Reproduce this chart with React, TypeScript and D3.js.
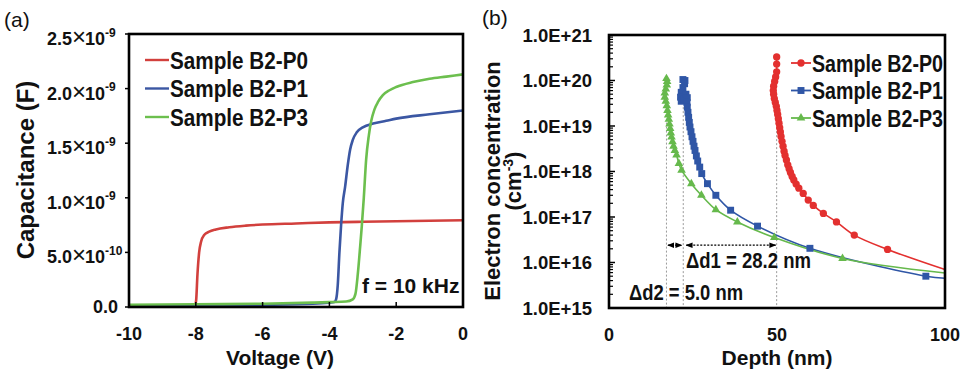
import React from 'react';
import * as d3 from 'd3';

// ---------- Panel (a): C-V data (capacitance in units of 1e-9 F) ----------
const voltageP0 = [-10, -9, -8.5, -8.15, -8.02, -7.99, -7.95, -7.9, -7.84, -7.75, -7.6, -7.4, -7.0, -6.5, -6, -5, -4, -3, -2, -1, 0];
const capP0 = [0.01, 0.012, 0.013, 0.015, 0.02, 0.06, 0.3, 0.5, 0.6, 0.66, 0.69, 0.71, 0.73, 0.745, 0.755, 0.765, 0.775, 0.78, 0.785, 0.79, 0.795];

const voltageP1 = [-10, -8, -6, -4.5, -4, -3.85, -3.8, -3.75, -3.7, -3.65, -3.6, -3.53, -3.45, -3.38, -3.3, -3.18, -3.0, -2.69, -2.3, -2, -1, 0];
const capP1 = [0.01, 0.015, 0.02, 0.03, 0.04, 0.045, 0.07, 0.2, 0.5, 0.75, 0.95, 1.1, 1.3, 1.44, 1.53, 1.6, 1.645, 1.68, 1.705, 1.725, 1.765, 1.8];

const voltageP3 = [-10, -8, -6, -4.5, -4, -3.5, -3.3, -3.22, -3.15, -3.08, -3.03, -2.97, -2.9, -2.82, -2.75, -2.65, -2.54, -2.4, -2.2, -2.0, -1.5, -1, -0.5, 0];
const capP3 = [0.02, 0.025, 0.03, 0.04, 0.045, 0.05, 0.07, 0.12, 0.3, 0.55, 0.74, 1.0, 1.35, 1.57, 1.7, 1.81, 1.88, 1.94, 1.985, 2.015, 2.06, 2.09, 2.11, 2.13];

const voltageTicks = [-10, -8, -6, -4, -2, 0];
const capTicks = [0, 0.5, 1.0, 1.5, 2.0, 2.5];
const capTickMantissa = ['0.0', '5.0', '1.0', '1.5', '2.0', '2.5'];
const capTickExponent = ['', '-10', '-9', '-9', '-9', '-9'];

const seriesNames = ['Sample B2-P0', 'Sample B2-P1', 'Sample B2-P3'];

// ---------- Panel (b): depth profiles ----------
const depthP0 = [49.9, 49.9, 49.9, 49.6, 49.3, 49.0, 48.9, 49.0, 49.2, 49.5, 49.8, 50.0, 50.2, 50.4, 50.6, 50.8, 51.0, 51.2, 51.5, 51.8, 52.1, 52.4, 52.8, 53.2, 53.6, 54.0, 54.5, 55.0, 55.7, 56.5, 57.8, 59.3, 60.8, 63.8, 67.7, 73.0, 82.9, 100];
const concP0 = [3.3e20, 2.3e20, 1.55e20, 1.2e20, 9.5e19, 7.5e19, 6e19, 5e19, 4e19, 3.3e19, 2.7e19, 2.2e19, 1.8e19, 1.45e19, 1.15e19, 9.2e18, 7.4e18, 5.9e18, 4.6e18, 3.6e18, 2.8e18, 2.25e18, 1.8e18, 1.4e18, 1.15e18, 9.5e17, 7.8e17, 6.5e17, 5.3e17, 4.3e17, 3.3e17, 2.35e17, 1.8e17, 1.2e17, 7.8e16, 4e16, 1.94e16, 7e15];

const depthP1 = [22.0, 22.6, 22.5, 22.0, 21.5, 21.3, 21.5, 22.2, 22.9, 23.3, 23.2, 23.3, 23.5, 23.7, 23.9, 24.1, 24.4, 24.7, 25.0, 25.3, 25.6, 26.0, 26.4, 27.0, 27.6, 29.3, 31.8, 36.2, 44.2, 59.8, 94.3, 100];
const concP1 = [1.05e20, 1.0e20, 8.5e19, 7e19, 5.5e19, 4.3e19, 3.5e19, 4e19, 5e19, 4.2e19, 3.3e19, 2.6e19, 2e19, 1.55e19, 1.2e19, 9.5e18, 7.5e18, 5.8e18, 4.6e18, 3.6e18, 2.9e18, 2.2e18, 1.7e18, 1.25e18, 9e17, 5.4e17, 3e17, 1.41e17, 6.3e16, 2.05e16, 5e15, 4.5e15];

const depthP3 = [17.1, 17.3, 17.2, 16.9, 16.6, 16.6, 16.9, 17.2, 17.4, 17.6, 17.8, 18.0, 18.2, 18.4, 18.6, 18.9, 19.2, 19.6, 20.1, 20.8, 21.6, 24.5, 27.5, 31.8, 38.2, 49.2, 69.5, 100];
const concP3 = [1.1e20, 9.5e19, 8e19, 6.5e19, 5.3e19, 4.3e19, 3.5e19, 2.8e19, 2.2e19, 1.75e19, 1.4e19, 1.1e19, 8.8e18, 7e18, 5.7e18, 4.5e18, 3.6e18, 2.9e18, 2.3e18, 1.5e18, 1.07e18, 5.4e17, 3e17, 1.45e17, 7.8e16, 3.55e16, 1.23e16, 5.9e15];

const depthTicks = [0, 50, 100];
const concTicks = [1e15, 1e16, 1e17, 1e18, 1e19, 1e20, 1e21];
const concTickLabels = ['1.0E+15', '1.0E+16', '1.0E+17', '1.0E+18', '1.0E+19', '1.0E+20', '1.0E+21'];

// guide lines (surface edge depth for P3, P1, P0) and their top concentration
const guideDepths = [17.1, 22.1, 49.9];
const guideTopConc = [6e19, 2.6e19, 2.6e19];
const arrowConc = 2.4e16;
const deltaLabels = ['\u0394d1 = 28.2 nm', '\u0394d2 = 5.0 nm'];

const FONT = "'Liberation Sans', Arial, Helvetica, sans-serif";
const colorsA = ['#d2403d', '#3b57a3', '#6cbf4e'];
const colorsB = ['#e3302f', '#2f56a6', '#66b94c'];

function zip(xs: number[], ys: number[]): [number, number][] {
  return xs.map((x, i) => [x, ys[i]]);
}

export default function App() {
  const xA = d3.scaleLinear().domain([-10, 0]).range([129, 463]);
  const yA = d3.scaleLinear().domain([0, 2.5]).range([307, 34]);
  const lineA = d3
    .line<[number, number]>()
    .x((d) => xA(d[0]))
    .y((d) => yA(d[1]))
    .curve(d3.curveMonotoneX);
  const dataA = [zip(voltageP0, capP0), zip(voltageP1, capP1), zip(voltageP3, capP3)];

  const xB = d3.scaleLinear().domain([0, 100]).range([609, 945]);
  const yB = d3.scaleLog().domain([1e15, 1e21]).range([308, 35]);
  const lineB = d3
    .line<[number, number]>()
    .x((d) => xB(d[0]))
    .y((d) => yB(d[1]))
    .curve(d3.curveCatmullRom.alpha(0.5));
  const dataB = [zip(depthP0, concP0), zip(depthP1, concP1), zip(depthP3, concP3)];
  const symbols = [
    d3.symbol().type(d3.symbolCircle).size(42)(),
    d3.symbol().type(d3.symbolSquare).size(48)(),
    d3.symbol().type(d3.symbolTriangle).size(32)(),
  ];

  const minorTicks: number[] = [];
  for (let e = 15; e < 21; e++) {
    for (let m = 2; m <= 9; m++) minorTicks.push(m * Math.pow(10, e));
  }

  const ay = yB(arrowConc);
  const gx = guideDepths.map((d) => xB(d));

  return (
    <svg
      width={964}
      height={382}
      viewBox="0 0 964 382"
      style={{ position: 'absolute', left: 0, top: 0, background: '#fff' }}
      fontFamily={FONT}
    >
      <defs>
        <marker
          id="ah"
          viewBox="0 0 10 10"
          refX={9}
          refY={5}
          markerUnits="userSpaceOnUse"
          markerWidth={7}
          markerHeight={7}
          orient="auto-start-reverse"
        >
          <path d="M0,1 L10,5 L0,9 z" fill="#000" />
        </marker>
      </defs>
      <rect x={0} y={0} width={964} height={382} fill="#fff" />

      {/* ================= Panel (a) ================= */}
      <text x={4} y={27} fontSize={21} fill="#111">(a)</text>

      <g fill="none" strokeWidth={2.6} strokeLinejoin="round">
        {dataA.map((d, i) => (
          <path key={i} d={lineA(d) || ''} stroke={colorsA[i]} />
        ))}
      </g>

      <rect x={129} y={34} width={334} height={273} fill="none" stroke="#000" strokeWidth={2.6} />

      {voltageTicks.map((v) => (
        <g key={v}>
          <line x1={xA(v)} x2={xA(v)} y1={307} y2={302} stroke="#000" strokeWidth={1.5} />
          <text x={xA(v)} y={340} textAnchor="middle" fontSize={18} fontWeight="bold" fill="#111">
            {String(v)}
          </text>
        </g>
      ))}
      {capTicks.map((c, i) => {
        const ty = yA(c);
        return (
          <g key={c} fill="#111">
            <line x1={125} x2={129} y1={ty} y2={ty} stroke="#000" strokeWidth={1.5} />
            {capTickExponent[i] ? (
              <text x={47} y={ty + 11} fontSize={18} fontWeight="bold">
                <tspan>{capTickMantissa[i]}</tspan>
                <tspan fontSize={24} fontWeight="normal">{'\u00d7'}</tspan>
                <tspan dx={-1}>10</tspan>
                <tspan fontSize={12} dy={-8.5}>{capTickExponent[i]}</tspan>
              </text>
            ) : (
              <text x={118} y={ty + 6} textAnchor="end" fontSize={18} fontWeight="bold">
                {capTickMantissa[i]}
              </text>
            )}
          </g>
        );
      })}

      <text x={280} y={365} textAnchor="middle" fontSize={21} fontWeight="bold" fill="#111">
        Voltage (V)
      </text>
      <text
        transform="translate(34,170) rotate(-90)"
        textAnchor="middle"
        fontSize={24}
        fontWeight="bold"
        fill="#111"
      >
        Capacitance (F)
      </text>

      {seriesNames.map((n, i) => {
        const cy = 60 + i * 28.5;
        return (
          <g key={n}>
            <line x1={145} x2={169} y1={cy} y2={cy} stroke={colorsA[i]} strokeWidth={2.4} />
            <text
              x={170}
              y={cy + 8.5}
              fontSize={23}
              fontWeight="bold"
              fill="#111"
              textLength={138}
              lengthAdjust="spacingAndGlyphs"
            >
              {n}
            </text>
          </g>
        );
      })}
      <text x={362} y={293} fontSize={21} fontWeight="bold" fill="#111">
        f = 10 kHz
      </text>

      {/* ================= Panel (b) ================= */}
      <text x={482} y={25} fontSize={21} fill="#111">(b)</text>

      {guideDepths.map((d, i) => (
        <line
          key={i}
          x1={xB(d)}
          x2={xB(d)}
          y1={yB(guideTopConc[i])}
          y2={308}
          stroke="#9a9a9a"
          strokeWidth={1}
          strokeDasharray="2,2"
        />
      ))}

      <g fill="none" strokeWidth={1.6} strokeLinejoin="round">
        {dataB.map((d, i) => (
          <path key={i} d={lineB(d) || ''} stroke={colorsB[i]} />
        ))}
      </g>
      {dataB.map((d, i) => (
        <g key={i} fill={colorsB[i]}>
          {d
            .filter((p) => p[0] < 99)
            .map((p, j) => (
              <path key={j} d={symbols[i] || ''} transform={`translate(${xB(p[0])},${yB(p[1])})`} />
            ))}
        </g>
      ))}

      <line
        x1={gx[0] + 1.5}
        x2={gx[1] - 1.5}
        y1={ay}
        y2={ay}
        stroke="#000"
        strokeWidth={1.2}
        strokeDasharray="2,1.5"
        markerStart="url(#ah)"
        markerEnd="url(#ah)"
      />
      <line
        x1={gx[1] + 3}
        x2={gx[2] - 1}
        y1={ay}
        y2={ay}
        stroke="#000"
        strokeWidth={1.2}
        strokeDasharray="2,1.5"
        markerStart="url(#ah)"
        markerEnd="url(#ah)"
      />
      <text
        x={686}
        y={268}
        fontSize={22}
        fontWeight="bold"
        fill="#111"
        textLength={125}
        lengthAdjust="spacingAndGlyphs"
      >
        {deltaLabels[0]}
      </text>
      <text
        x={629}
        y={300}
        fontSize={22}
        fontWeight="bold"
        fill="#111"
        textLength={114}
        lengthAdjust="spacingAndGlyphs"
      >
        {deltaLabels[1]}
      </text>

      <rect x={609} y={35} width={336} height={273} fill="none" stroke="#000" strokeWidth={2.6} />

      {minorTicks.map((t, i) => (
        <line key={i} x1={609} x2={613} y1={yB(t)} y2={yB(t)} stroke="#000" strokeWidth={1.2} />
      ))}
      {concTicks.map((t, i) => (
        <g key={t}>
          <line x1={609} x2={615} y1={yB(t)} y2={yB(t)} stroke="#000" strokeWidth={1.5} />
          <text x={592} y={yB(t) + 6.5} textAnchor="end" fontSize={18.5} fontWeight="bold" fill="#111">
            {concTickLabels[i]}
          </text>
        </g>
      ))}
      {depthTicks.map((t) => (
        <text key={t} x={xB(t)} y={341} textAnchor="middle" fontSize={18} fontWeight="bold" fill="#111">
          {String(t)}
        </text>
      ))}
      <text x={777} y={365} textAnchor="middle" fontSize={21} fontWeight="bold" fill="#111">
        Depth (nm)
      </text>
      <text
        transform="translate(500,181) rotate(-90)"
        textAnchor="middle"
        fontSize={22}
        fontWeight="bold"
        fill="#111"
      >
        Electron concentration
      </text>
      <text
        transform="translate(521,181) rotate(-90)"
        textAnchor="middle"
        fontSize={22}
        fontWeight="bold"
        fill="#111"
      >
        <tspan>(cm</tspan>
        <tspan fontSize={14} dy={-8}>-3</tspan>
        <tspan dy={8}>)</tspan>
      </text>

      {seriesNames.map((n, i) => {
        const cy = 63 + i * 27.5;
        return (
          <g key={n}>
            <line x1={791} x2={811} y1={cy} y2={cy} stroke={colorsB[i]} strokeWidth={1.8} />
            <path d={symbols[i] || ''} fill={colorsB[i]} transform={`translate(801,${cy})`} />
            <text
              x={812}
              y={cy + 8.5}
              fontSize={23}
              fontWeight="bold"
              fill="#111"
              textLength={131}
              lengthAdjust="spacingAndGlyphs"
            >
              {n}
            </text>
          </g>
        );
      })}
    </svg>
  );
}
